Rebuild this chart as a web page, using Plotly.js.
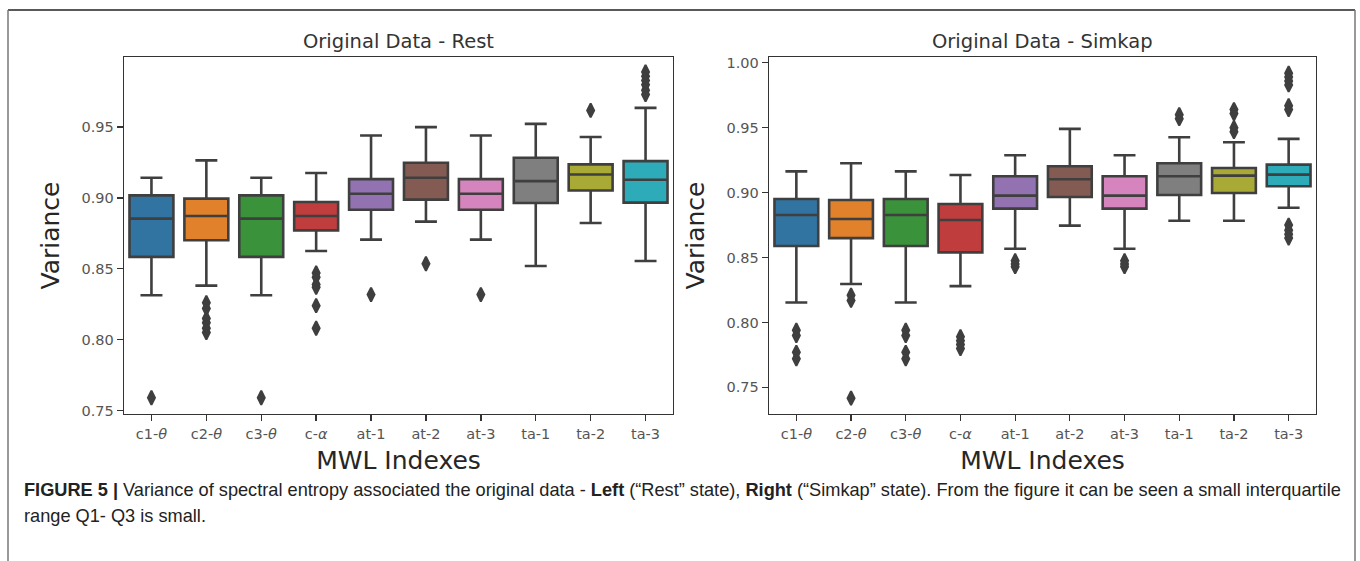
<!DOCTYPE html>
<html>
<head>
<meta charset="utf-8">
<script src="https://cdn.plot.ly/plotly-3.0.1.min.js"></script>
<style>
html,body{margin:0;padding:0;background:#fff;}
#chart{width:1360px;height:561px;}
</style>
</head>
<body>
<div id="chart"></div>
<script>
// ---- data ----
const categories = ['c1-θ','c2-θ','c3-θ','c-α','at-1','at-2','at-3','ta-1','ta-2','ta-3'];
const tickLabels = ['c1-<i>θ</i>','c2-<i>θ</i>','c3-<i>θ</i>','c-<i>α</i>','at-1','at-2','at-3','ta-1','ta-2','ta-3'];
const boxColors = ['#3274a1','#e1812c','#3a923a','#c03d3e','#9372b2','#845b53','#d684bd','#7f7f7f','#a9aa35','#2eabb8'];

// Rest state
const restLower  = [0.8313,0.8381,0.8313,0.8626,0.8706,0.8833,0.8706,0.8520,0.8823,0.8555];
const restQ1     = [0.8584,0.8701,0.8584,0.8771,0.8917,0.8988,0.8917,0.8964,0.9053,0.8967];
const restMedian = [0.8854,0.8873,0.8854,0.8873,0.9030,0.9143,0.9030,0.9119,0.9166,0.9129];
const restQ3     = [0.9018,0.8995,0.9018,0.8971,0.9133,0.9249,0.9133,0.9284,0.9237,0.9260];
const restUpper  = [0.9143,0.9265,0.9143,0.9176,0.9441,0.9500,0.9441,0.9523,0.9430,0.9636];
const restOutCat = ['c1-θ','c2-θ','c2-θ','c2-θ','c2-θ','c2-θ','c2-θ','c3-θ',
                    'c-α','c-α','c-α','c-α','c-α','c-α',
                    'at-1','at-2','at-3','ta-2',
                    'ta-3','ta-3','ta-3','ta-3','ta-3','ta-3'];
const restOutVal = [0.759,0.826,0.822,0.815,0.812,0.808,0.805,0.759,
                    0.847,0.844,0.839,0.837,0.824,0.808,
                    0.8318,0.8536,0.8318,0.9618,
                    0.989,0.986,0.983,0.980,0.976,0.973];

// Simkap state
const simLower  = [0.8154,0.8296,0.8154,0.8280,0.8568,0.8746,0.8568,0.8784,0.8784,0.8884];
const simQ1     = [0.8589,0.8650,0.8589,0.8540,0.8877,0.8967,0.8877,0.8982,0.8997,0.9049];
const simMedian = [0.8828,0.8797,0.8828,0.8789,0.8977,0.9103,0.8977,0.9126,0.9131,0.9139];
const simQ3     = [0.8951,0.8943,0.8951,0.8913,0.9126,0.9203,0.9126,0.9226,0.9190,0.9216];
const simUpper  = [0.9164,0.9226,0.9164,0.9136,0.9288,0.9491,0.9288,0.9427,0.9388,0.9414];
const simOutCat = ['c1-θ','c1-θ','c1-θ','c1-θ',
                   'c2-θ','c2-θ','c2-θ',
                   'c3-θ','c3-θ','c3-θ','c3-θ',
                   'c-α','c-α','c-α','c-α',
                   'at-1','at-1','at-1',
                   'at-3','at-3','at-3',
                   'ta-1','ta-1',
                   'ta-2','ta-2','ta-2','ta-2',
                   'ta-3','ta-3','ta-3','ta-3','ta-3','ta-3','ta-3','ta-3','ta-3','ta-3'];
const simOutVal = [0.794,0.790,0.777,0.772,
                   0.821,0.817,0.7417,
                   0.794,0.790,0.777,0.772,
                   0.789,0.786,0.783,0.780,
                   0.8475,0.845,0.843,
                   0.8475,0.845,0.843,
                   0.960,0.957,
                   0.964,0.961,0.950,0.947,
                   0.992,0.989,0.986,0.983,0.967,0.964,0.875,0.871,0.868,0.865];

const restYTicks = [0.75,0.80,0.85,0.90,0.95];
const simYTicks  = [0.75,0.80,0.85,0.90,0.95,1.00];

// ---- build traces ----
const lineCol = '#3f3f3f';
const traces = [];
function addPanel(lower,q1,med,q3,upper,outCat,outVal,xa,ya){
  categories.forEach((c,i)=>{
    traces.push({
      type:'box', x:[c], q1:[q1[i]], median:[med[i]], q3:[q3[i]],
      lowerfence:[lower[i]], upperfence:[upper[i]],
      fillcolor:boxColors[i], line:{color:lineCol,width:2.6},
      boxpoints:false, width:0.8, whiskerwidth:0.5,
      xaxis:xa, yaxis:ya, showlegend:false, hoverinfo:'skip'
    });
  });
  traces.push({
    type:'scatter', mode:'markers', x:outCat, y:outVal,
    marker:{symbol:'diamond-tall', size:10, color:lineCol, line:{width:2, color:lineCol}},
    xaxis:xa, yaxis:ya, showlegend:false, hoverinfo:'skip'
  });
}
addPanel(restLower,restQ1,restMedian,restQ3,restUpper,restOutCat,restOutVal,'x','y');
addPanel(simLower,simQ1,simMedian,simQ3,simUpper,simOutCat,simOutVal,'x2','y2');

const tickFont = {family:'DejaVu Sans', size:14.5, color:'#555'};
const titleFont = {family:'DejaVu Sans', size:25, color:'#262626'};
function xAxis(domain){
  return {
    domain:domain, type:'category', categoryorder:'array', categoryarray:categories,
    tickvals:categories, ticktext:tickLabels, range:[-0.5,9.5],
    showline:true, mirror:true, linecolor:'#333', linewidth:1.3,
    ticks:'outside', ticklen:6, tickwidth:1.3, tickcolor:'#333',
    showgrid:false, zeroline:false, tickfont:tickFont,
    title:{text:'MWL Indexes', font:titleFont, standoff:10}
  };
}
function yAxis(domain, range, ticks, anchor){
  return {
    domain:domain, range:range, tickvals:ticks, tickformat:'.2f', anchor:anchor,
    showline:true, mirror:true, linecolor:'#333', linewidth:1.3,
    ticks:'outside', ticklen:6, tickwidth:1.3, tickcolor:'#333',
    showgrid:false, zeroline:false, tickfont:tickFont,
    title:{text:'Variance', font:titleFont, standoff:14}
  };
}
const yDom = [1-414/561, 1-57/561];
const x1Dom = [124/1360, 673/1360];
const x2Dom = [769/1360, 1316/1360];

const capFont = {family:'Liberation Sans, Arial', size:18.2, color:'#222'};
const layout = {
  width:1360, height:561, margin:{l:0,r:0,t:0,b:0},
  paper_bgcolor:'#fff', plot_bgcolor:'#fff', boxmode:'overlay',
  font:{family:'DejaVu Sans'},
  xaxis: Object.assign(xAxis(x1Dom),{anchor:'y'}),
  yaxis: yAxis(yDom,[0.7475,0.9995],restYTicks,'x'),
  xaxis2: Object.assign(xAxis(x2Dom),{anchor:'y2'}),
  yaxis2: yAxis(yDom,[0.7295,1.0045],simYTicks,'x2'),
  shapes:[
    {type:'line', xref:'paper', yref:'paper', x0:8/1360, x1:1355/1360, y0:1-10/561, y1:1-10/561, line:{color:'#222',width:1.5}},
    {type:'line', xref:'paper', yref:'paper', x0:8/1360, x1:8/1360, y0:1-10/561, y1:0, line:{color:'#777',width:1.5}},
    {type:'line', xref:'paper', yref:'paper', x0:1355/1360, x1:1355/1360, y0:1-10/561, y1:0, line:{color:'#777',width:1.5}}
  ],
  annotations:[
    {text:'Original Data - Rest', xref:'paper', yref:'paper', x:(x1Dom[0]+x1Dom[1])/2, y:1-55/561,
     xanchor:'center', yanchor:'bottom', showarrow:false, font:{family:'DejaVu Sans', size:19.5, color:'#333'}},
    {text:'Original Data - Simkap', xref:'paper', yref:'paper', x:(x2Dom[0]+x2Dom[1])/2, y:1-55/561,
     xanchor:'center', yanchor:'bottom', showarrow:false, font:{family:'DejaVu Sans', size:19.5, color:'#333'}},
    {text:'<b>FIGURE 5 |</b> Variance of spectral entropy associated the original data - <b>Left</b> (“Rest” state), <b>Right</b> (“Simkap” state). From the figure it can be seen a small interquartile',
     xref:'paper', yref:'paper', x:22/1360, y:1-490/561, xanchor:'left', yanchor:'middle', showarrow:false, align:'left',
     font:capFont},
    {text:'range Q1- Q3 is small.',
     xref:'paper', yref:'paper', x:22/1360, y:1-516/561, xanchor:'left', yanchor:'middle', showarrow:false, align:'left',
     font:capFont}
  ]
};
Plotly.newPlot('chart', traces, layout, {staticPlot:true, displayModeBar:false});
</script>
</body>
</html>
